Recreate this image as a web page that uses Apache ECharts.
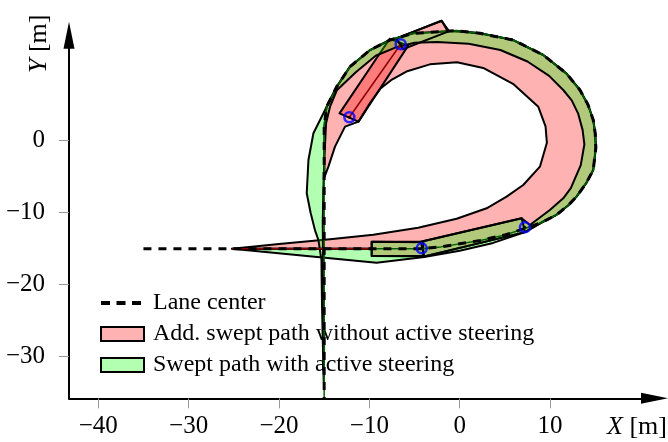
<!DOCTYPE html>
<html><head><meta charset="utf-8">
<script src="https://cdn.jsdelivr.net/npm/echarts@6/dist/echarts.min.js"></script>
<style>html,body{margin:0;padding:0;background:#fff}#c{width:668px;height:442px}</style>
</head><body><div id="c"></div>
<script>
// ---- tick values ----
const xTicks = [-40, -30, -20, -10, 0, 10];
const yTicks = [-30, -20, -10, 0];

// ---- lane center (dashed) ----
const laneCenter = [[-35,-15],[-20,-15],[-9.74,-15],[-4.2,-15.0],[-2.1,-14.75],[2.3,-13.85],[5.0,-13.1],[7.2,-12.2],
  [9.0,-11.4],[10.72,-10.3],[12.0,-9.0],[12.93,-7.77],[14.0,-5.9],[14.78,-4.07],[15.07,-1.0],[15.0,1.0],[14.78,2.87],
  [14.2,5.0],[13.31,7.04],[11.8,9.35],[9.25,11.9],[5.93,13.98],[2.24,14.91],[-0.34,15.28],[-5.13,14.91],[-7.71,13.98],
  [-9.92,12.59],[-12.14,10.28],[-13.61,7.5],[-14.72,4.72],[-15.0,1.95],[-15.0,-5],[-15.0,-20],[-15.0,-35.78]];

// ---- swept path without active steering (red) ----
const sweptWithout = [[-25.2,-15],[-9.74,-15.0],[-9.74,-16.0],[-3.93,-16.08],[7.23,-12.7],
  [9.0,-11.4],[10.72,-10.3],[12.0,-9.0],[12.93,-7.77],[14.0,-5.9],[14.78,-4.07],[15.07,-1.0],[15.0,1.0],[14.78,2.87],
  [14.2,5.0],[13.31,7.04],[11.8,9.35],[9.25,11.9],[5.93,13.98],[2.24,14.91],[-1.2,15.25],[-2.0,16.65],[-7.0,14.2],
  [-7.71,14.05],[-9.92,12.59],[-12.14,10.28],[-13.61,7.5],[-14.72,4.72],[-15.0,1.95],[-15.0,-2.5],[-14.95,-5.0],
  [-14.53,-3.61],[-13.8,-0.83],[-12.69,1.95],[-11.2,2.65],[-9.9,5.3],[-8.8,7.2],[-7.6,8.4],[-5.9,9.6],[-3.3,10.6],
  [-0.3,10.9],[2.6,10.1],[5.9,7.9],[8.7,4.7],[9.5,2.0],[9.65,-0.3],[8.88,-3.61],[7.03,-6.15],[5.19,-7.77],[2.98,-9.39],
  [-0.34,-10.85],[-4.6,-12.1],[-9.56,-13.05],[-14.35,-13.7],[-20,-14.35]];

// ---- swept path with active steering (green) ----
const sweptWith = [[-25.2,-15],[-9.2,-16.94],[-3.93,-16.15],[0,-15.3],[3.7,-14.2],[7.23,-12.7],
  [9.0,-11.4],[10.72,-10.3],[12.0,-9.0],[12.93,-7.77],[14.0,-5.9],[14.78,-4.07],[15.07,-1.0],[15.0,1.0],[14.78,2.87],
  [14.2,5.0],[13.31,7.04],[11.8,9.35],[9.25,11.9],[5.93,13.98],[2.24,14.91],[-0.34,15.28],[-5.13,14.91],[-7.71,13.98],
  [-9.92,12.59],[-12.14,10.28],[-13.61,7.5],[-14.72,4.72],
  [-16.19,1.03],[-16.74,-2.68],[-16.93,-7.31],[-16.5,-10.0],[-16.0,-12.5],[-15.64,-13.79],[-15.3,-16.6],[-15.25,-22],
  [-15.15,-28],[-15.05,-33.5],
  [-15.0,-28],[-15.05,-22],[-15.1,-17.9],[-15.16,-11.5],[-15.09,-6.85],[-14.97,-2.22],[-14.79,2.41],[-14.35,4.72],[-13.6,7.0],
  [-11.5,9.5],[-9.3,11.8],[-7.2,12.9],[-5.0,13.6],[-2.5,13.7],[1.0,13.45],[4.5,12.6],[7.5,11.0],[9.9,9.0],[11.46,7.04],
  [12.4,5.6],[13.1,3.8],[13.6,1.5],[13.8,-0.5],[13.4,-3.4],[12.3,-6.6],[11.46,-8.0],[9.98,-9.62],[7.77,-11.71],
  [6.86,-10.78],[-4.3,-14.05],[-9.74,-14.05],[-9.74,-15.0]];

// ---- vehicle outlines ----
const trailerEnd = [[-13.3,3.8],[-7.75,14.15],[-5.7,13.2],[-11.2,2.65]];
const tractorEnd = [[-7.0,14.2],[-2.0,16.65],[-1.3,15.15],[-6.3,12.7]];
const tractorStart = [[-9.74,-14.05],[-4.03,-14.1],[-4.03,-16.0],[-9.74,-16.0]];
const trailerStart = [[-4.3,-14.05],[6.86,-10.78],[7.23,-12.7],[-3.93,-16.08]];

// ---- markers & reference paths ----
const axlePoints = [[-12.21,3.25],[-6.53,13.39],[-4.2,-14.95],[7.22,-12.03]];
const trailerAxis = [[-12.21,3.25],[-6.53,13.39]];
const pathWithoutStart = [[-25.2,-15],[-9.74,-15]];

const FONT = '"Liberation Serif", "Times New Roman", serif';
const RED = 'rgba(255,0,0,0.3)';
const GREEN = 'rgba(0,255,0,0.3)';
const NAME_RED = 'Add. swept path without active steering';
const NAME_GREEN = 'Swept path with active steering';
// legend glyph: three thick dashes inside a 43x14 box
const DASH_ICON = 'path://M0,0h0v0z M43,14h0v0z M0,5h9v4h-9z M15.5,5h9v4h-9z M31,5h9v4h-9z';

function poly(name, pts, fill, stroke, lw) {
  return {
    type: 'custom', name: name, coordinateSystem: 'cartesian2d', clip: false, silent: true,
    data: [pts[0]], itemStyle: { color: fill === 'none' ? '#000' : fill },
    renderItem: function (params, api) {
      return { type: 'polygon', shape: { points: pts.map(function (p) { return api.coord(p); }) },
        style: { fill: fill, stroke: stroke, lineWidth: lw, lineJoin: 'round' } };
    }
  };
}
function fmt(v) { return v < 0 ? '\u2212' + Math.abs(v) : String(v); }

const chart = echarts.init(document.getElementById('c'), null, { renderer: 'canvas' });
chart.setOption({
  animation: false,
  backgroundColor: '#fff',
  grid: { left: 69, top: 35.2, width: 585.5, height: 363.1, containLabel: false },
  xAxis: {
    type: 'value', min: -43.24, max: 21.56,
    axisLine: { show: true, onZero: false, symbol: ['none', 'triangle'], symbolSize: [11, 27],
      lineStyle: { color: '#000', width: 2 } },
    axisTick: { show: true, length: 10, customValues: xTicks, lineStyle: { color: '#999', width: 1 } },
    axisLabel: { customValues: xTicks, formatter: fmt, fontFamily: FONT, fontSize: 25, color: '#000', margin: 16 },
    splitLine: { show: false }
  },
  yAxis: {
    type: 'value', min: -35.78, max: 14.65,
    axisLine: { show: true, onZero: false, symbol: ['none', 'triangle'], symbolSize: [11, 27],
      lineStyle: { color: '#000', width: 2 } },
    axisTick: { show: true, length: 10, customValues: yTicks, lineStyle: { color: '#999', width: 1 } },
    axisLabel: { customValues: yTicks, formatter: fmt, fontFamily: FONT, fontSize: 25, color: '#000', margin: 24 },
    splitLine: { show: false }
  },
  legend: {
    orient: 'vertical', left: 100, top: 291, padding: 0, itemGap: 7, itemWidth: 43, itemHeight: 14, z: 1,
    selectedMode: false,
    textStyle: { fontFamily: FONT, fontSize: 24, color: '#000', lineHeight: 24, padding: [0, 0, 0, 4] },
    data: [
      { name: 'Lane center', icon: DASH_ICON, itemStyle: { color: '#000', borderWidth: 0 } },
      { name: NAME_RED, icon: 'rect', itemStyle: { color: RED, borderColor: '#000', borderWidth: 2 } },
      { name: NAME_GREEN, icon: 'rect', itemStyle: { color: GREEN, borderColor: '#000', borderWidth: 2 } }
    ]
  },
  graphic: [
    { type: 'text', x: 667, y: 427, silent: true,
      style: { text: '{i|X} [m]', rich: { i: { fontStyle: 'italic', fontFamily: FONT, fontSize: 26 } },
        fontFamily: FONT, fontSize: 26, fill: '#000', align: 'right', textAlign: 'right',
        verticalAlign: 'middle', textVerticalAlign: 'middle' } },
    { type: 'text', x: 39, y: 73, rotation: Math.PI / 2, silent: true,
      style: { text: '{i|Y} [m]', rich: { i: { fontStyle: 'italic', fontFamily: FONT, fontSize: 26 } },
        fontFamily: FONT, fontSize: 26, fill: '#000', align: 'left', textAlign: 'left',
        verticalAlign: 'middle', textVerticalAlign: 'middle' } }
  ],
  series: [
    poly(NAME_RED, sweptWithout, RED, '#000', 2),
    poly('trailerFill', trailerEnd, RED, '#000', 2),
    poly(NAME_GREEN, sweptWith, GREEN, '#000', 2),
    poly('tractorEnd', tractorEnd, 'none', '#000', 2),
    poly('tractorStart', tractorStart, 'none', '#000', 2),
    poly('trailerStart', trailerStart, 'none', '#000', 2),
    { type: 'line', name: 'pathWithoutStart', data: pathWithoutStart, symbol: 'none', clip: false, silent: true,
      lineStyle: { color: '#8b0000', width: 1.5 } },
    { type: 'line', name: 'trailerAxis', data: trailerAxis, symbol: 'none', clip: false, silent: true,
      lineStyle: { color: '#8b0000', width: 1.5 } },
    { type: 'line', name: 'pathWith', data: laneCenter.slice(2), symbol: 'none', clip: false, silent: true,
      lineStyle: { color: '#006400', width: 1.5 } },
    { type: 'line', name: 'Lane center', data: laneCenter, symbol: 'none', clip: false, silent: true, z: 4,
      itemStyle: { color: '#000' }, lineStyle: { color: '#000', width: 3, type: [8, 7] } },
    { type: 'scatter', name: 'axles', data: axlePoints, symbol: 'circle', symbolSize: 10, clip: false, silent: true, z: 5,
      itemStyle: { color: 'rgba(0,0,0,0)', borderColor: '#0000ff', borderWidth: 2.5 } },
    { type: 'scatter', name: 'axleDots', data: axlePoints, symbol: 'circle', symbolSize: 3, clip: false, silent: true, z: 5,
      itemStyle: { color: '#000' } }
  ]
});
</script>
</body></html>
